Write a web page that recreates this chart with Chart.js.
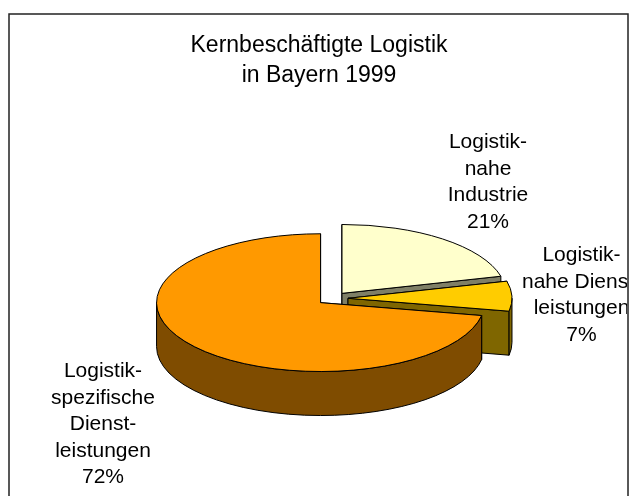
<!DOCTYPE html>
<html>
<head>
<meta charset="utf-8">
<style>
  html, body { margin: 0; padding: 0; background: #fff; overflow: hidden; }
  canvas { display: block; }
</style>
<script src="https://cdn.jsdelivr.net/npm/chart.js@4"></script>
</head>
<body>
<canvas id="pie3d" width="630" height="496"></canvas>
<script>
// Data
const titleLines = ['Kernbeschäftigte Logistik', 'in Bayern 1999'];
const categories = ['Logistiknahe Industrie', 'Logistiknahe Dienstleistungen', 'Logistikspezifische Dienstleistungen'];
const shares = [21, 7, 72];
const sliceLabels = [
    ['Logistik-', 'nahe', 'Industrie', '21%'],
    ['Logistik-', 'nahe Dienst-', 'leistungen', '7%'],
    ['Logistik-', 'spezifische', 'Dienst-', 'leistungen', '72%']
];

// Styles
const topColors = ['#FFFFCC', '#FFCC00', '#FF9900'];
const sideColors = ['#7F7F66', '#7F6600', '#7F4C00'];
const labelCenterX = [488, 581.5, 103];
const labelFirstY = [148, 261, 377];
const tilt = 0.42;
const depth = 44;
const explode = 15.5;

const fontFamily = "'Liberation Sans', Arial, sans-serif";

// Where the tilted slice ends up on the canvas
function sliceGeometry(arc) {
    const p = arc.getProps(['x', 'y', 'startAngle', 'endAngle', 'outerRadius']);
    const mid = (p.startAngle + p.endAngle) / 2;
    return {
        cx: p.x + Math.cos(mid) * explode,
        cy: p.y + Math.sin(mid) * explode * tilt,
        rx: p.outerRadius,
        ry: p.outerRadius * tilt,
        start: p.startAngle,
        end: p.endAngle
    };
}

function drawCutFace(ctx, g, angle, color) {
    const ex = g.cx + Math.cos(angle) * g.rx;
    const ey = g.cy + Math.sin(angle) * g.ry;
    ctx.beginPath();
    ctx.moveTo(g.cx, g.cy);
    ctx.lineTo(ex, ey);
    ctx.lineTo(ex, ey + depth);
    ctx.lineTo(g.cx, g.cy + depth);
    ctx.closePath();
    ctx.fillStyle = color;
    ctx.fill();
    ctx.stroke();
}

function drawRim(ctx, g, color) {
    const from = Math.max(g.start, 0);
    const to = Math.min(g.end, Math.PI);
    if (to <= from) return;
    ctx.beginPath();
    ctx.ellipse(g.cx, g.cy, g.rx, g.ry, 0, from, to);
    ctx.ellipse(g.cx, g.cy + depth, g.rx, g.ry, 0, to, from, true);
    ctx.closePath();
    ctx.fillStyle = color;
    ctx.fill();
    ctx.stroke();
}

function drawTop(ctx, g, color) {
    ctx.beginPath();
    ctx.moveTo(g.cx, g.cy);
    ctx.ellipse(g.cx, g.cy, g.rx, g.ry, 0, g.start, g.end);
    ctx.closePath();
    ctx.fillStyle = color;
    ctx.fill();
    ctx.stroke();
}

const pie3dPlugin = {
    id: 'pie3d',
    beforeDraw(chart) {
        const ctx = chart.ctx;
        ctx.save();
        ctx.fillStyle = '#fff';
        ctx.fillRect(0, 0, chart.width, chart.height);
        ctx.strokeStyle = '#222';
        ctx.lineWidth = 1.5;
        ctx.strokeRect(9, 14, 619, 600);
        ctx.restore();
    },
    // the arcs are laid out by Chart.js, only their painting gets the tilt
    beforeDatasetsDraw(chart) {
        const ctx = chart.ctx;
        const arcs = chart.getDatasetMeta(0).data;
        ctx.save();
        ctx.strokeStyle = '#000';
        ctx.lineWidth = 1;
        ctx.lineJoin = 'round';
        arcs.forEach((arc, i) => {
            const g = sliceGeometry(arc);
            drawCutFace(ctx, g, g.start, sideColors[i]);
            drawCutFace(ctx, g, g.end, sideColors[i]);
            drawRim(ctx, g, sideColors[i]);
            drawTop(ctx, g, topColors[i]);
        });
        ctx.restore();
        return false;
    },
    afterDraw(chart) {
        const ctx = chart.ctx;
        ctx.save();
        ctx.fillStyle = '#000';
        ctx.textAlign = 'center';
        ctx.textBaseline = 'alphabetic';

        ctx.font = '23px ' + fontFamily;
        titleLines.forEach((line, i) => ctx.fillText(line, 319, 52 + i * 29.5));

        // the right hand label runs into the frame and is cut off there
        ctx.beginPath();
        ctx.rect(9, 14, 618, 482);
        ctx.clip();
        ctx.font = '21px ' + fontFamily;
        sliceLabels.forEach((lines, i) => {
            lines.forEach((line, j) => ctx.fillText(line, labelCenterX[i], labelFirstY[i] + j * 26.6));
        });
        ctx.restore();
    }
};

new Chart(document.getElementById('pie3d'), {
    type: 'pie',
    plugins: [pie3dPlugin],
    data: {
        labels: categories,
        datasets: [{
            data: shares,
            backgroundColor: topColors,
            borderWidth: 0
        }]
    },
    options: {
        responsive: false,
        animation: false,
        radius: 164,
        rotation: 0,
        layout: { padding: { left: 35, top: 101 } },
        plugins: {
            legend: { display: false },
            tooltip: { enabled: false }
        }
    }
});
</script>
</body>
</html>
